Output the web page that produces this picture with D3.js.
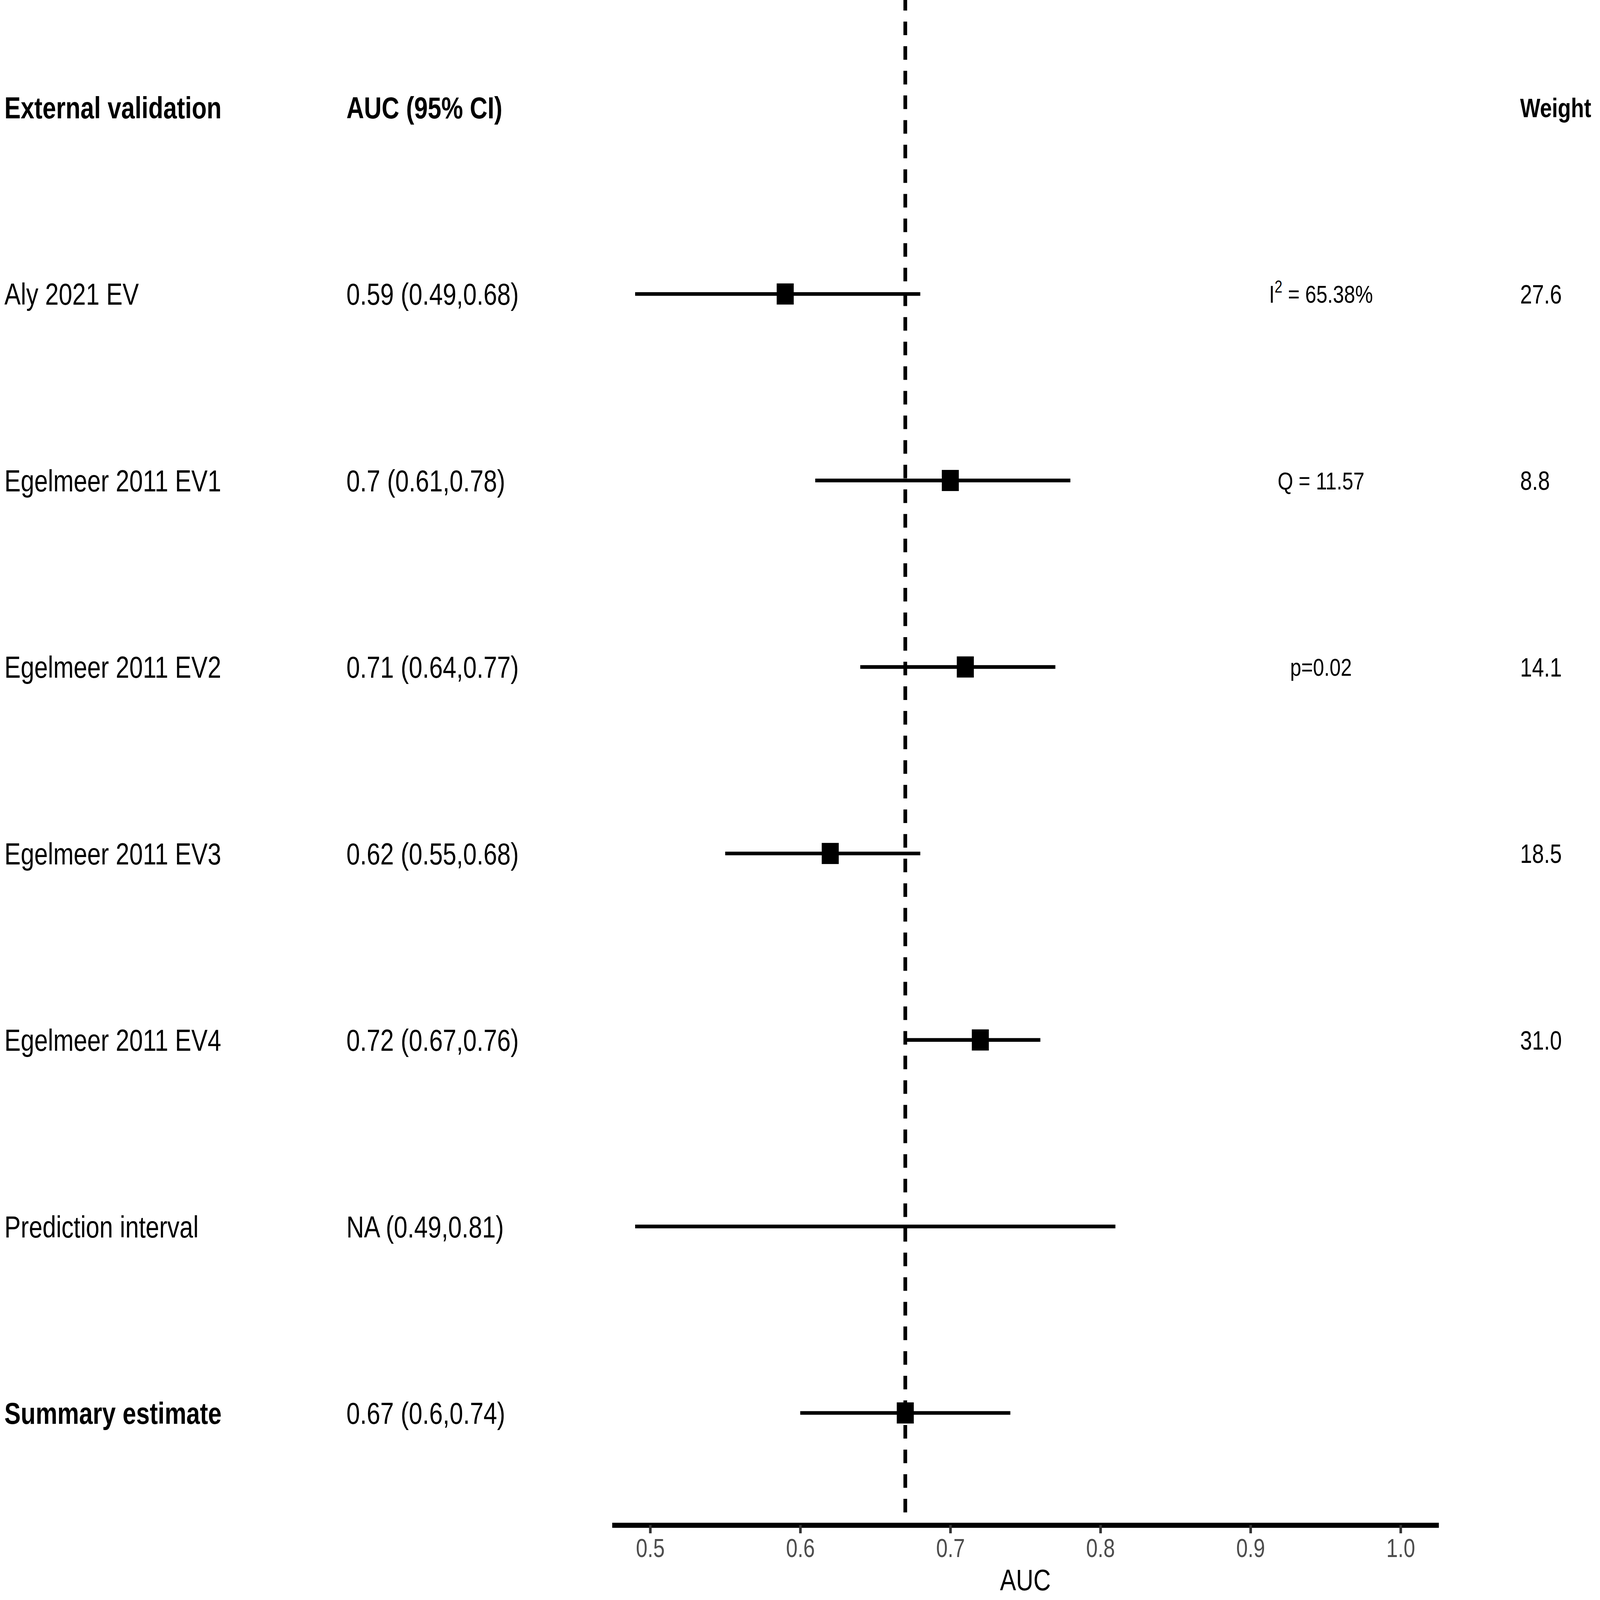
<!DOCTYPE html>
<html>
<head>
<meta charset="utf-8">
<script src="https://cdn.jsdelivr.net/npm/d3@7"></script>
<style>
  html, body { margin: 0; padding: 0; background: #fff; overflow: hidden; }
  svg { display: block; width: 100vw; height: 100vh; }
</style>
</head>
<body>
<div id="forest"></div>
<script>
// study rows
const studies = ["Aly 2021 EV", "Egelmeer 2011 EV1", "Egelmeer 2011 EV2", "Egelmeer 2011 EV3", "Egelmeer 2011 EV4"];
const auc = [0.59, 0.7, 0.71, 0.62, 0.72];
const lower = [0.49, 0.61, 0.64, 0.55, 0.67];
const upper = [0.68, 0.78, 0.77, 0.68, 0.76];
const weights = [27.6, 8.8, 14.1, 18.5, 31.0];

// pooled results
const predInterval = [0.49, 0.81];
const summary = { est: 0.67, lo: 0.6, hi: 0.74 };
const i2 = "65.38%";
const qStat = "11.57";
const pValue = "0.02";

const xTicks = [0.5, 0.6, 0.7, 0.8, 0.9, 1.0];

document.addEventListener("DOMContentLoaded", function () {
    const W = 4324, H = 4354;
    const sy = 1.25;              // picture is stretched vertically
    const vbH = H / sy;
    const font = "'Liberation Sans', Arial, sans-serif";

    const svg = d3.select("#forest")
        .append("svg")
        .attr("viewBox", `0 0 ${W} ${vbH}`)
        .attr("preserveAspectRatio", "none")
        .style("font-family", font);

    const x = d3.scaleLinear().domain([0.4746, 1.0254]).range([1654, 3888]);
    const y = d3.scaleLinear().domain([0, 7]).range([234, 3076]);
    const axisY = 3320;

    let rows = studies.map((s, i) => ({
        label: s, est: auc[i], lo: lower[i], hi: upper[i], weight: weights[i], row: i + 1
    }));
    rows.push({ label: "Prediction interval", est: null, lo: predInterval[0], hi: predInterval[1], weight: null, row: 6 });
    rows.push({ label: "Summary estimate", est: summary.est, lo: summary.lo, hi: summary.hi, weight: null, row: 7, bold: true });

    const ciText = d => (d.est === null ? "NA" : String(d.est)) + " (" + String(d.lo) + "," + String(d.hi) + ")";

    // headers
    const fs = 66, fsW = 58, fsS = 54;
    const base = (r, f) => y(r) + 0.358 * f;
    svg.append("text").attr("x", 12).attr("y", base(0, fs))
        .attr("font-size", fs).attr("font-weight", "bold").text("External validation");
    svg.append("text").attr("x", 936).attr("y", base(0, fs))
        .attr("font-size", fs).attr("font-weight", "bold").text("AUC (95% CI)");
    svg.append("text").attr("x", 4108).attr("y", base(0, fsW))
        .attr("font-size", fsW).attr("font-weight", "bold").text("Weight");

    // labels and CI text
    svg.selectAll("text.lab").data(rows).enter().append("text")
        .attr("class", "lab")
        .attr("x", 12).attr("y", d => base(d.row, fs))
        .attr("font-size", fs)
        .attr("font-weight", d => d.bold ? "bold" : "normal")
        .text(d => d.label);
    svg.selectAll("text.ci").data(rows).enter().append("text")
        .attr("class", "ci")
        .attr("x", 936).attr("y", d => base(d.row, fs))
        .attr("font-size", fs)
        .text(ciText);
    svg.selectAll("text.wt").data(rows.filter(d => d.weight !== null)).enter().append("text")
        .attr("class", "wt")
        .attr("x", 4108).attr("y", d => base(d.row, fsW))
        .attr("font-size", fsW)
        .text(d => d3.format(".1f")(d.weight));

    // heterogeneity
    const sx = 3570;
    const t1 = svg.append("text").attr("x", sx).attr("y", base(1, fsS))
        .attr("font-size", fsS).attr("text-anchor", "middle");
    t1.append("tspan").text("I");
    t1.append("tspan").attr("font-size", fsS * 0.7).attr("dy", -fsS * 0.42).text("2");
    t1.append("tspan").attr("dy", fsS * 0.42).text(" = " + i2);
    svg.append("text").attr("x", sx).attr("y", base(2, fsS))
        .attr("font-size", fsS).attr("text-anchor", "middle").text("Q = " + qStat);
    svg.append("text").attr("x", sx).attr("y", base(3, fsS))
        .attr("font-size", fsS).attr("text-anchor", "middle").text("p=" + pValue);

    // CI lines
    svg.selectAll("line.ciline").data(rows).enter().append("line")
        .attr("class", "ciline")
        .attr("x1", d => x(d.lo)).attr("x2", d => x(d.hi))
        .attr("y1", d => y(d.row)).attr("y2", d => y(d.row))
        .attr("stroke", "#000").attr("stroke-width", 8);

    // reference line at summary estimate
    svg.append("line")
        .attr("x1", x(summary.est)).attr("x2", x(summary.est))
        .attr("y1", 0).attr("y2", axisY - 5)
        .attr("stroke", "#000").attr("stroke-width", 10)
        .attr("stroke-dasharray", "29.6,24")
        .attr("stroke-dashoffset", 6.6);

    // point estimates
    const sq = 46;
    svg.selectAll("rect.pt").data(rows.filter(d => d.est !== null)).enter().append("rect")
        .attr("class", "pt")
        .attr("x", d => x(d.est) - sq / 2).attr("y", d => y(d.row) - sq / 2)
        .attr("width", sq).attr("height", sq)
        .attr("fill", "#000");

    // x axis
    const xAxis = d3.axisBottom(x)
        .tickValues(xTicks)
        .tickFormat(d3.format(".1f"))
        .tickSizeInner(18)
        .tickSizeOuter(0)
        .tickPadding(12);
    const gx = svg.append("g")
        .attr("transform", `translate(0,${axisY})`)
        .call(xAxis);
    gx.select(".domain").attr("stroke", "#000").attr("stroke-width", 11);
    gx.selectAll(".tick line").attr("stroke", "#333").attr("stroke-width", 7);
    gx.selectAll(".tick text")
        .attr("font-size", 56)
        .attr("font-family", font)
        .attr("fill", "#4D4D4D");

    svg.append("text")
        .attr("x", (x.range()[0] + x.range()[1]) / 2)
        .attr("y", 3462)
        .attr("text-anchor", "middle")
        .attr("font-size", 65)
        .text("AUC");
});
</script>
</body>
</html>
